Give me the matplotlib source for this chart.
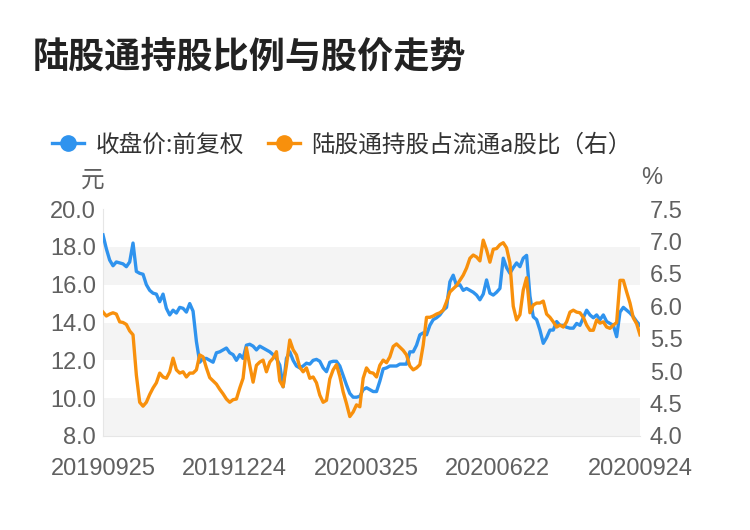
import numpy as np
import matplotlib
matplotlib.use("Agg")
import matplotlib.pyplot as plt
from matplotlib.lines import Line2D

plt.rcParams['font.family'] = ['Noto Sans CJK SC', 'DejaVu Sans']

title = "陆股通持股比例与股价走势"
series_names = ["收盘价:前复权", "陆股通持股占流通a股比（右）"]
tick_labels = ["20190925", "20191224", "20200325", "20200622", "20200924"]
tick_days = [0, 60, 120, 180, 245]
n_days = 246

price = [
    18.63, 17.9, 17.3, 17.0, 17.2, 17.15, 17.1, 16.95, 17.2, 18.2, 16.7, 16.6, 16.55, 16.0,
    15.7, 15.55, 15.5, 15.1, 15.5, 14.75, 14.4, 14.65, 14.5, 14.8, 14.75, 14.55, 15.0,
    14.6, 13.0, 11.9, 12.1, 12.1, 12.0, 11.9, 12.4, 12.45, 12.55, 12.65, 12.4, 12.3, 12.0,
    12.3, 12.1, 12.8, 12.85, 12.75, 12.55, 12.75, 12.65, 12.55, 12.45, 12.3, 12.1, 11.75,
    10.6, 12.1, 12.45, 12.0, 11.7, 11.6, 11.7, 11.85, 11.8, 12.0, 12.05, 11.95, 11.6, 11.4,
    11.9, 11.95, 11.95, 11.7, 11.2, 10.7, 10.25, 10.05, 10.05, 10.1, 10.45, 10.55, 10.45,
    10.35, 10.35, 10.9, 11.55, 11.6, 11.7, 11.7, 11.7, 11.8, 11.8, 11.8, 12.45, 12.45, 12.8,
    13.35, 13.45, 13.35, 13.85, 14.15, 14.25, 14.4, 14.65, 14.8, 16.15, 16.5, 15.95, 16.0,
    15.7, 15.8, 15.7, 15.6, 15.45, 15.2, 15.5, 16.25, 15.55, 15.45, 15.6, 15.8, 17.4, 16.9,
    16.6, 16.9, 17.15, 16.95, 17.4, 17.55, 15.4, 14.3, 14.15, 13.6, 12.9, 13.2, 13.6,
    13.6, 14.05, 13.85, 13.85, 13.75, 13.7, 13.7, 13.95, 13.85, 14.25, 14.65, 14.4, 14.25,
    14.4, 14.15, 14.4, 14.05, 13.95, 13.85, 13.25, 14.55, 14.8, 14.65, 14.5, 14.3, 14.05, 13.85,
]

ratio = [
    5.91, 5.85, 5.88, 5.90, 5.88, 5.76, 5.75, 5.72, 5.62, 5.56, 4.94, 4.52, 4.46, 4.52,
    4.64, 4.74, 4.82, 4.97, 4.91, 4.89, 4.99, 5.20, 5.02, 4.97, 4.99, 4.91, 4.97,
    4.97, 5.02, 5.25, 5.22, 5.05, 4.90, 4.85, 4.80, 4.72, 4.65, 4.57, 4.52, 4.56, 4.57,
    4.74, 4.89, 5.36, 5.09, 4.83, 5.09, 5.14, 5.17, 4.99, 5.14, 5.20, 5.30, 4.85,
    4.76, 5.09, 5.48, 5.33, 5.25, 5.06, 4.99, 5.05, 4.89, 4.91, 4.82, 4.63, 4.52, 4.55,
    4.88, 5.02, 5.10, 4.92, 4.68, 4.50, 4.30, 4.37, 4.48, 4.45, 4.89, 5.05, 4.98,
    4.97, 4.91, 5.09, 5.17, 5.13, 5.22, 5.38, 5.42, 5.37, 5.32, 5.25, 5.08, 5.02, 5.05,
    5.10, 5.40, 5.83, 5.83, 5.85, 5.88, 5.90, 5.94, 6.07, 6.22, 6.27, 6.32, 6.40,
    6.48, 6.59, 6.74, 6.79, 6.76, 6.70, 7.02, 6.87, 6.68, 6.88, 6.89, 6.95, 6.98, 6.90,
    6.67, 6.00, 5.79, 5.87, 6.25, 6.44, 5.90, 6.02, 6.05, 6.05, 6.08, 5.88, 5.83,
    5.76, 5.68, 5.71, 5.68, 5.76, 5.91, 5.94, 5.91, 5.90, 5.83, 5.71, 5.63, 5.63,
    5.79, 5.74, 5.76, 5.68, 5.66, 5.71, 5.75, 6.40, 6.40, 6.22, 6.05, 5.82, 5.73, 5.56,
]

blue = '#2f93ee'
orange = '#f8900c'
txt = '#606060'

fig = plt.figure(figsize=(7.5, 5.3), dpi=100)
ax = fig.add_axes([103/750, 1-436/530, (640-103)/750, (436-209)/530])
ax2 = ax.twinx()

x = np.linspace(0, n_days - 1, len(price))
x2 = np.linspace(0, n_days - 1, len(ratio))

ax.set_ylim(8, 20)
ax2.set_ylim(4, 7.5)
ax.set_xlim(0, n_days - 1)

# split areas
for lo in [8, 12, 16]:
    ax.axhspan(lo, lo + 2, color='#f4f4f4', zorder=0, lw=0)

ax.plot(x, price, color=blue, lw=2.4, zorder=3, solid_joinstyle='round')
ax2.plot(x2, ratio, color=orange, lw=2.4, zorder=3, solid_joinstyle='round')

ax.set_yticks(np.arange(8, 20.1, 2))
ax.set_yticklabels([f"{v:.1f}" for v in np.arange(8, 20.1, 2)])
ax2.set_yticks(np.arange(4, 7.51, 0.5))
ax2.set_yticklabels([f"{v:.1f}" for v in np.arange(4, 7.51, 0.5)])
ax.set_xticks(tick_days)
ax.set_xticklabels(tick_labels)

for a in (ax, ax2):
    for s in a.spines.values():
        s.set_visible(False)
    a.tick_params(length=0, labelsize=17, colors=txt)
    for lab in a.get_xticklabels() + a.get_yticklabels():
        lab.set_fontfamily(['Liberation Sans', 'DejaVu Sans'])
ax.spines['left'].set_visible(True)
ax.spines['left'].set_color('#e6e6e6')
ax.spines['bottom'].set_visible(True)
ax.spines['bottom'].set_color('#e6e6e6')
ax.tick_params(axis='y', pad=5)
ax.tick_params(axis='x', pad=16)
ax2.tick_params(axis='y', pad=7)

fig.text(33/750, 1-57/530, title, fontsize=26, fontweight='bold', color='#222222',
         ha='left', va='center')
fig.text(93/750, 1-180/530, "元", fontsize=17, color=txt, ha='center', va='center')
fig.text(652/750, 1-178/530, "%", fontsize=17, color=txt, ha='center', va='center',
         family=['Liberation Sans', 'DejaVu Sans'])

handles = [
    Line2D([], [], color=blue, lw=2.4, marker='o', markersize=11),
    Line2D([], [], color=orange, lw=2.4, marker='o', markersize=11),
]
leg = fig.legend(handles, series_names, loc='center left',
                 bbox_to_anchor=(52/750, 1-145/530), ncol=2, frameon=False,
                 fontsize=17, handlelength=1.35, handletextpad=0.5,
                 columnspacing=1.0, borderpad=0, borderaxespad=0)
for t in leg.get_texts():
    t.set_color('#333333')

fig.savefig('out.png', dpi=100)
